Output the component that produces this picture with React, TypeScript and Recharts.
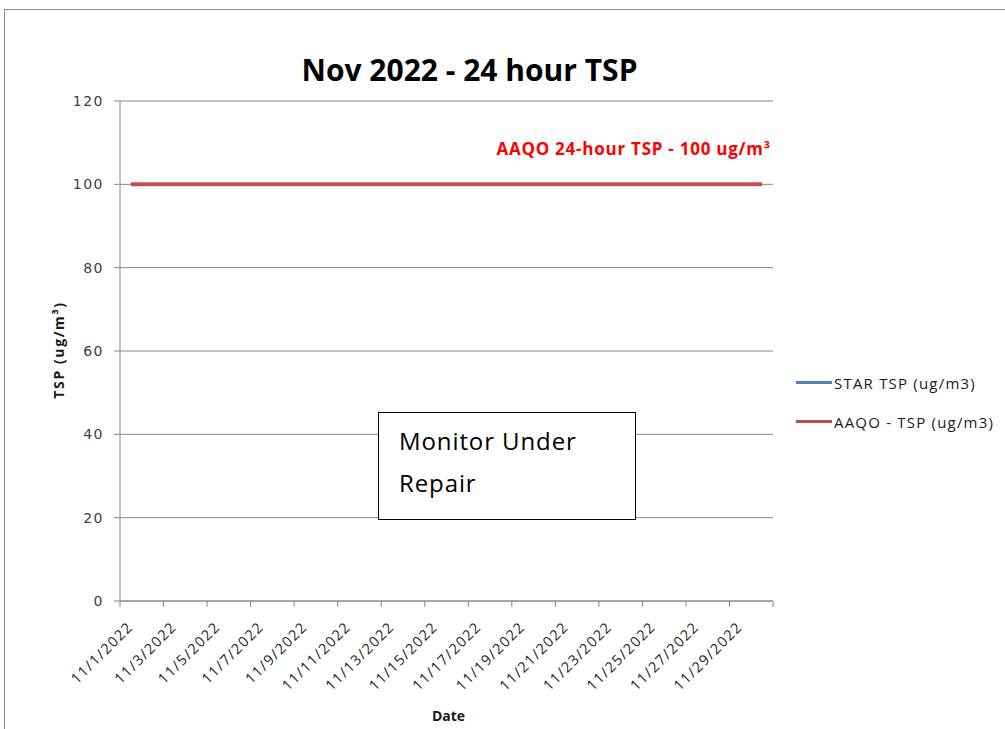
import React from 'react';
import { LineChart, Line, XAxis, YAxis, CartesianGrid, Legend, ReferenceLine } from 'recharts';

const dates = [
  '11/1/2022', '11/2/2022', '11/3/2022', '11/4/2022', '11/5/2022', '11/6/2022',
  '11/7/2022', '11/8/2022', '11/9/2022', '11/10/2022', '11/11/2022', '11/12/2022',
  '11/13/2022', '11/14/2022', '11/15/2022', '11/16/2022', '11/17/2022', '11/18/2022',
  '11/19/2022', '11/20/2022', '11/21/2022', '11/22/2022', '11/23/2022', '11/24/2022',
  '11/25/2022', '11/26/2022', '11/27/2022', '11/28/2022', '11/29/2022', '11/30/2022',
];

// monitor under repair: no readings for the month
const starTsp: (number | null)[] = [
  null, null, null, null, null, null, null, null, null, null,
  null, null, null, null, null, null, null, null, null, null,
  null, null, null, null, null, null, null, null, null, null,
];

const aaqoTsp = [
  100, 100, 100, 100, 100, 100, 100, 100, 100, 100,
  100, 100, 100, 100, 100, 100, 100, 100, 100, 100,
  100, 100, 100, 100, 100, 100, 100, 100, 100, 100,
];

const yTicks = [0, 20, 40, 60, 80, 100, 120];

const seriesNames = ['STAR TSP (ug/m3)', 'AAQO - TSP (ug/m3)'];

const data = dates.map((date, i) => ({ date, star: starTsp[i], aaqo: aaqoTsp[i] }));

const GRID = '#868686';
const PLOT_W = 653;
const STEP = PLOT_W / dates.length;

const DateTick = (props: any) => {
  const { x, y, payload } = props;
  const pos = dates.indexOf(payload.value);
  const left = x - STEP / 2;
  const lx = x + 3;
  const ly = y + 27;
  return (
    <g>
      <line x1={left} y1={y} x2={left} y2={y + 6} stroke={GRID} />
      {pos + 2 >= dates.length && (
        <line x1={left + STEP * (dates.length - pos)} y1={y} x2={left + STEP * (dates.length - pos)} y2={y + 6} stroke={GRID} />
      )}
      <text
        x={lx}
        y={ly}
        transform={`rotate(-45, ${lx}, ${ly})`}
        textAnchor="end"
        fill="#262626"
        style={{ fontFamily: 'Open Sans', fontSize: 14.5, letterSpacing: 1.3 }}
      >
        {payload.value}
      </text>
    </g>
  );
};

const LegendContent = ({ payload }: any) => {
  const items = [...(payload || [])].sort(
    (a: any, b: any) => seriesNames.indexOf(a.value) - seriesNames.indexOf(b.value)
  );
  return (
    <div>
      {items.map((p: any) => (
        <div key={p.value} style={{ display: 'flex', alignItems: 'center', height: 39 }}>
          <span style={{ display: 'inline-block', width: 36, height: 3, background: p.color }} />
          <span style={{ marginLeft: 2, fontFamily: 'Open Sans', fontSize: 15, letterSpacing: 1.2, color: '#1a1a1a' }}>
            {p.value}
          </span>
        </div>
      ))}
    </div>
  );
};

const App = () => {
  return (
    <div
      style={{
        position: 'absolute',
        left: 4,
        top: 9,
        width: 1001,
        height: 720,
        boxSizing: 'border-box',
        borderTop: '1px solid #8e8e8e',
        borderLeft: '1px solid #8e8e8e',
        background: '#fff',
      }}
    >
      <div
        style={{
          position: 'absolute',
          left: 0,
          top: 45,
          width: 929,
          textAlign: 'center',
          fontFamily: 'Open Sans',
          fontWeight: 700,
          fontSize: 30,
          lineHeight: 1,
          color: '#000',
        }}
      >
        Nov 2022 - 24 hour TSP
      </div>
      <LineChart width={1000} height={719} data={data} margin={{ top: 91, right: 232, bottom: 68, left: 50 }}>
        <CartesianGrid horizontal vertical={false} stroke={GRID} />
        <XAxis
          dataKey="date"
          scale="band"
          interval={1}
          height={60}
          tickSize={0}
          tickMargin={0}
          tickLine={false}
          axisLine={{ stroke: GRID }}
          tick={<DateTick />}
          label={{
            content: ({ viewBox }: any) => (
              <text
                x={viewBox.x + viewBox.width / 2 + 2}
                y={viewBox.y + 120}
                textAnchor="middle"
                style={{ fontFamily: 'Open Sans', fontWeight: 700, fontSize: 14, fill: '#1a1a1a' }}
              >
                Date
              </text>
            ),
          }}
        />
        <YAxis
          width={65}
          domain={[0, 120]}
          ticks={yTicks}
          tickSize={6}
          tickMargin={10}
          axisLine={{ stroke: GRID }}
          tickLine={{ stroke: GRID }}
          tick={{ fill: '#404040', fontFamily: 'DejaVu Sans', fontSize: 14, letterSpacing: 1.5 }}
          label={{
            content: ({ viewBox }: any) => {
              const lx = viewBox.x + 9;
              const ly = viewBox.y + viewBox.height / 2 - 1;
              return (
                <text
                  x={lx}
                  y={ly}
                  transform={`rotate(-90, ${lx}, ${ly})`}
                  textAnchor="middle"
                  style={{ fontFamily: 'Open Sans', fontWeight: 700, fontSize: 14, letterSpacing: 1.6, fill: '#1a1a1a' }}
                >
                  TSP (ug/m³)
                </text>
              );
            },
          }}
        />
        <ReferenceLine
          y={100}
          stroke="none"
          label={{
            content: ({ viewBox }: any) => (
              <text
                x={viewBox.x + viewBox.width - 2}
                y={viewBox.y - 29}
                textAnchor="end"
                style={{ fontFamily: 'Open Sans', fontWeight: 700, fontSize: 17, letterSpacing: 0.75, fill: '#ff0000' }}
              >
                AAQO 24-hour TSP - 100 ug/m³
              </text>
            ),
          }}
        />
        <Line
          type="linear"
          dataKey="star"
          name={seriesNames[0]}
          stroke="#4f81bd"
          strokeWidth={3}
          dot={false}
          legendType="line"
          isAnimationActive={false}
        />
        <Line
          type="linear"
          dataKey="aaqo"
          name={seriesNames[1]}
          stroke="#c0504d"
          strokeWidth={4}
          dot={false}
          legendType="line"
          isAnimationActive={false}
        />
        <Legend
          layout="vertical"
          align="center"
          verticalAlign="middle"
          content={<LegendContent />}
          wrapperStyle={{ left: 791, top: 353, width: 'auto', height: 'auto' }}
        />
      </LineChart>
      <div
        style={{
          position: 'absolute',
          left: 373,
          top: 402,
          width: 258,
          height: 108,
          boxSizing: 'border-box',
          border: '1px solid #000',
          background: '#fff',
          paddingTop: 7,
          paddingLeft: 20,
          fontFamily: 'Open Sans',
          fontSize: 24,
          letterSpacing: 0.9,
          lineHeight: '42px',
          color: '#000',
        }}
      >
        Monitor Under
        <br />
        Repair
      </div>
    </div>
  );
};

export default App;
